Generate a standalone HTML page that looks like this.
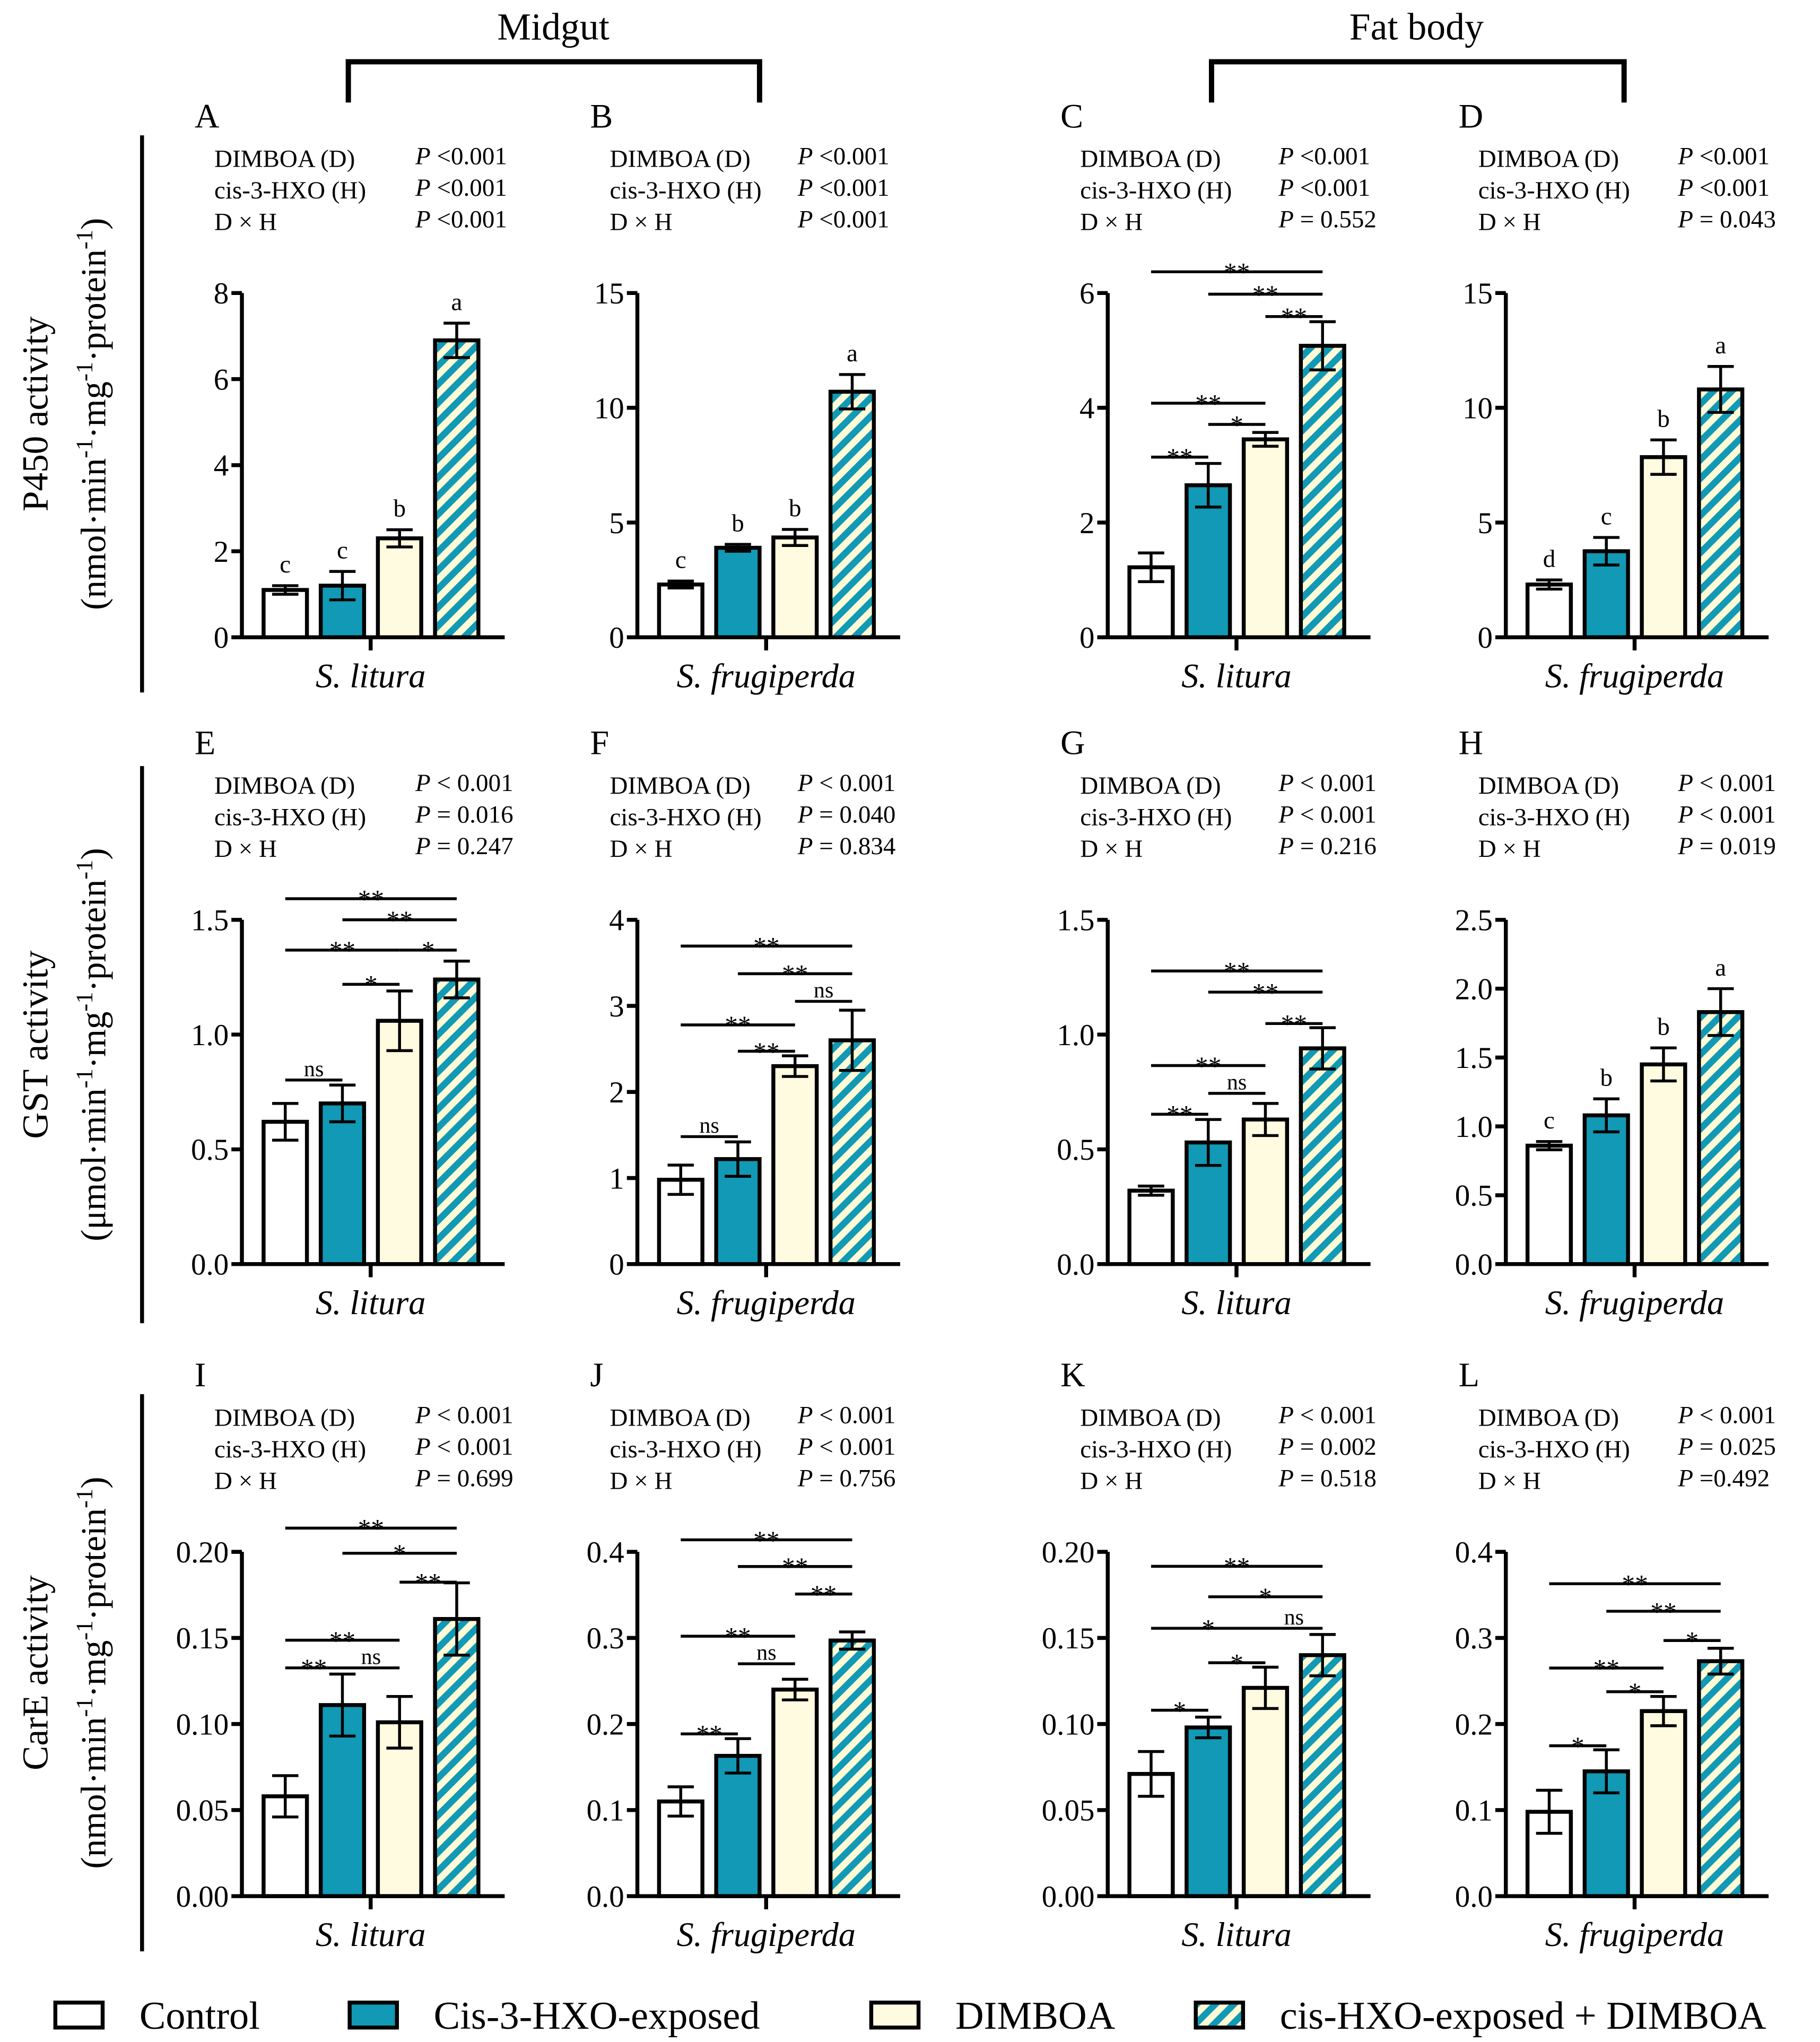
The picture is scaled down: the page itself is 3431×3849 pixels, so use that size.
<!DOCTYPE html>
<html><head><meta charset="utf-8">
<style>
html,body{margin:0;padding:0;background:#fff;}
svg{display:block;}
text{font-family:"Liberation Serif",serif;fill:#000;}
</style></head>
<body>
<svg id="chart" width="3431" height="3849" viewBox="0 0 1385 1554" xmlns="http://www.w3.org/2000/svg">
<defs>
<pattern id="hatch" patternUnits="userSpaceOnUse" width="10" height="10" patternTransform="rotate(45)">
<rect width="10" height="10" fill="#fffbd6"/>
<rect width="5" height="10" fill="#1199b5"/>
</pattern>
</defs>
<g id="root"></g>
</svg>
<script>
const panelIds = ["A","B","C","D","E","F","G","H","I","J","K","L"];
const yMaxes = [8,15,6,15,1.5,4,1.5,2.5,0.2,0.4,0.2,0.4];
const yTickLabels = [
 ["0","2","4","6","8"],["0","5","10","15"],["0","2","4","6"],["0","5","10","15"],
 ["0.0","0.5","1.0","1.5"],["0","1","2","3","4"],["0.0","0.5","1.0","1.5"],["0.0","0.5","1.0","1.5","2.0","2.5"],
 ["0.00","0.05","0.10","0.15","0.20"],["0.0","0.1","0.2","0.3","0.4"],["0.00","0.05","0.10","0.15","0.20"],["0.0","0.1","0.2","0.3","0.4"]];
const yTickValues = [
 [0,2,4,6,8],[0,5,10,15],[0,2,4,6],[0,5,10,15],
 [0,0.5,1,1.5],[0,1,2,3,4],[0,0.5,1,1.5],[0,0.5,1,1.5,2,2.5],
 [0,0.05,0.1,0.15,0.2],[0,0.1,0.2,0.3,0.4],[0,0.05,0.1,0.15,0.2],[0,0.1,0.2,0.3,0.4]];
const barValues = [
 [1.1,1.2,2.3,6.9],[2.3,3.9,4.35,10.7],[1.22,2.65,3.45,5.08],[2.3,3.75,7.85,10.8],
 [0.62,0.70,1.06,1.24],[0.98,1.22,2.3,2.6],[0.32,0.53,0.63,0.94],[0.86,1.08,1.45,1.83],
 [0.058,0.111,0.101,0.161],[0.11,0.163,0.24,0.297],[0.071,0.098,0.121,0.14],[0.098,0.145,0.215,0.273]];
const barErrors = [
 [0.1,0.33,0.2,0.4],[0.15,0.15,0.35,0.75],[0.25,0.38,0.12,0.42],[0.2,0.6,0.75,1.0],
 [0.08,0.08,0.13,0.08],[0.17,0.2,0.12,0.35],[0.02,0.1,0.07,0.09],[0.03,0.12,0.12,0.17],
 [0.012,0.018,0.015,0.021],[0.017,0.02,0.012,0.01],[0.013,0.006,0.012,0.012],[0.025,0.025,0.017,0.015]];
const groupLetters = [
 ["c","c","b","a"],["c","b","b","a"],[],["d","c","b","a"],
 [],[],[],["c","b","b","a"],[],[],[],[]];
const brackets = [
 [],[],
 [[0,3,6.37,"**"],[1,3,5.98,"**"],[2,3,5.59,"**"],[0,2,4.08,"**"],[1,2,3.71,"*"],[0,1,3.14,"**"]],
 [],
 [[0,3,1.592,"**"],[1,3,1.5,"**"],[0,2,1.368,"**"],[2,3,1.368,"*"],[1,2,1.219,"*"],[0,1,0.802,"ns"]],
 [[0,3,3.695,"**"],[1,3,3.374,"**"],[2,3,3.053,"ns"],[0,2,2.779,"**"],[1,2,2.473,"**"],[0,1,1.481,"ns"]],
 [[0,3,1.277,"**"],[1,3,1.185,"**"],[2,3,1.048,"**"],[0,2,0.865,"**"],[1,2,0.744,"ns"],[0,1,0.653,"**"]],
 [],
 [[0,3,0.2138,"**"],[1,3,0.1992,"*"],[2,3,0.1824,"**"],[0,2,0.1487,"**"],[0,1,0.1326,"**"],[1,2,0.1326,"ns"]],
 [[0,3,0.414,"**"],[1,3,0.383,"**"],[2,3,0.351,"**"],[0,2,0.302,"**"],[1,2,0.270,"ns"],[0,1,0.1885,"**"]],
 [[0,3,0.1916,"**"],[1,3,0.1739,"*"],[0,2,0.1556,"*"],[2,3,0.1556,"ns"],[1,2,0.1356,"*"],[0,1,0.1080,"*"]],
 [[0,3,0.363,"**"],[1,3,0.331,"**"],[2,3,0.297,"*"],[0,2,0.265,"**"],[1,2,0.2375,"*"],[0,1,0.1747,"*"]]];
const pTexts = [
 ["P  <0.001","P  <0.001","P  <0.001"],["P  <0.001","P  <0.001","P  <0.001"],["P  <0.001","P  <0.001","P = 0.552"],["P  <0.001","P  <0.001","P = 0.043"],
 ["P < 0.001","P  = 0.016","P  = 0.247"],["P < 0.001","P  = 0.040","P  = 0.834"],["P < 0.001","P < 0.001","P = 0.216"],["P < 0.001","P < 0.001","P = 0.019"],
 ["P < 0.001","P < 0.001","P = 0.699"],["P < 0.001","P < 0.001","P = 0.756"],["P < 0.001","P  = 0.002","P = 0.518"],["P < 0.001","P  = 0.025","P =0.492"]];
const factorNames = ["DIMBOA (D)","cis-3-HXO (H)","D × H"];
const speciesNames = ["S. litura","S. frugiperda","S. litura","S. frugiperda"];
const seriesNames = ["Control","Cis-3-HXO-exposed","DIMBOA","cis-HXO-exposed + DIMBOA"];

const NS = "http://www.w3.org/2000/svg";
const root = document.getElementById("root");
function mk(tag, attrs, parent, txt){
  const e = document.createElementNS(NS, tag);
  for (const k in attrs) e.setAttribute(k, attrs[k]);
  if (txt !== undefined) e.textContent = txt;
  (parent || root).appendChild(e);
  return e;
}
const colX = [184,485,843,1146];
const pColX = [316,607,973,1277];
const rowBase = [485,962,1443];
const plotH = 262;
const fills = ["#ffffff","#1199b5","#fffbe0","url(#hatch)"];

panelIds.forEach((id, p) => {
  const col = p % 4, row = Math.floor(p / 4);
  const x0 = colX[col], base = rowBase[row];
  const yMax = yMaxes[p];
  const ys = v => base - v / yMax * plotH;
  const xs = i => x0 + 33 + i * 43.5;
  const g = mk("g", {});
  
  
  const ty = base - 388;
  const lab = mk("text", {x: x0 - 36, y: ty, "font-size": 26}, g, id);
  
  
  factorNames.forEach((f, k) => {
    const t = mk("text", {x: x0 - 21, y: ty + 30 + k * 24, "font-size": 19}, g, f);
    
    
    const parts = pTexts[p][k];
    const pt = mk("text", {x: pColX[col], y: ty + 28 + k * 24, "font-size": 19, "xml:space": "preserve"}, g);
    
    
    mk("tspan", {"font-style": "italic"}, pt, "P");
    mk("tspan", {}, pt, parts.slice(1));
  });
  // bars
  barValues[p].forEach((v, i) => {
    const cx = xs(i);
    const r = mk("rect", {x: cx - 16.5, y: ys(v), width: 33, height: base - ys(v), fill: fills[i], stroke: "#000", "stroke-width": 3}, g);
    
    
    const e = barErrors[p][i];
    const eb = mk("path", {d: `M${cx},${ys(v + e)}V${ys(Math.max(0, v - e))}M${cx - 10},${ys(v + e)}H${cx + 10}M${cx - 10},${ys(Math.max(0, v - e))}H${cx + 10}`, stroke: "#000", "stroke-width": 2.2, fill: "none"}, g);
    
    
    if (groupLetters[p][i]) {
      const lt = mk("text", {x: cx, y: ys(v + e) - 10, "font-size": 19, "text-anchor": "middle"}, g, groupLetters[p][i]);
      
      
    }
  });
  brackets[p].forEach(b => {
    const y = ys(b[2]);
    const ln = mk("line", {x1: xs(b[0]), x2: xs(b[1]), y1: y, y2: y, stroke: "#000", "stroke-width": 2.2}, g);
    
    
    const st = mk("text", {x: (xs(b[0]) + xs(b[1])) / 2, y: y + (b[3] === "ns" ? -3 : 7), "font-size": b[3] === "ns" ? 17 : 20, "text-anchor": "middle"}, g, b[3]);
    
    
  });
  // axes
  const ax = mk("path", {d: `M${x0},${base - plotH}V${base}H${x0 + 200}M${x0 + 98},${base}V${base + 10}`, stroke: "#000", "stroke-width": 3, fill: "none"}, g);
  
  
  yTickValues[p].forEach((tv, k) => {
    const y = ys(tv);
    mk("line", {x1: x0 - 8, x2: x0, y1: y, y2: y, stroke: "#000", "stroke-width": 3}, g);
    const tl = mk("text", {x: x0 - 10, y: y + 8, "font-size": 23, "text-anchor": "end"}, g, yTickLabels[p][k]);
    
    
  });
  const sp = mk("text", {x: x0 + 98, y: base + 38, "font-size": 26, "font-style": "italic", "text-anchor": "middle"}, g, speciesNames[col]);
  
  
});

// y-axis titles
const yTitles = [["P450 activity","nmol"],["GST activity","μmol"],["CarE activity","nmol"]];
const rowMid = [315,795,1273];
yTitles.forEach((t, r) => {
  mk("line", {x1: 108, x2: 108, y1: rowMid[r] - 212, y2: rowMid[r] + 212, stroke: "#000", "stroke-width": 3});
  const a = mk("text", {x: 0, y: 0, "font-size": 28, "text-anchor": "middle", transform: `translate(36,${rowMid[r]}) rotate(-90)`}, root, t[0]);
  
  
  const b = mk("text", {x: 0, y: 0, "font-size": 27, "text-anchor": "middle", transform: `translate(80,${rowMid[r]}) rotate(-90)`});
  
  
  b.innerHTML = `(${t[1]}·min<tspan dy="-10" font-size="18">-1</tspan><tspan dy="10">·mg</tspan><tspan dy="-10" font-size="18">-1</tspan><tspan dy="10">·protein</tspan><tspan dy="-10" font-size="18">-1</tspan><tspan dy="10">)</tspan>`;
});

// tissue headers
[["Midgut",421,265,578],["Fat body",1078,922,1236]].forEach(h => {
  const t = mk("text", {x: h[1], y: 30, "font-size": 29, "text-anchor": "middle"}, root, h[0]);
  
  
  const br = mk("path", {d: `M${h[2]},78V47H${h[3]}V78`, stroke: "#000", "stroke-width": 4, fill: "none"});
  
  
});

// legend
const legX = [42,266,663,910];
seriesNames.forEach((s, i) => {
  const g = mk("g", {});
  
  
  mk("rect", {x: legX[i], y: 1524, width: 36, height: 19, fill: fills[i], stroke: "#000", "stroke-width": 3}, g);
  mk("text", {x: legX[i] + 64, y: 1544, "font-size": 30}, g, s);
});
</script>
</body></html>
